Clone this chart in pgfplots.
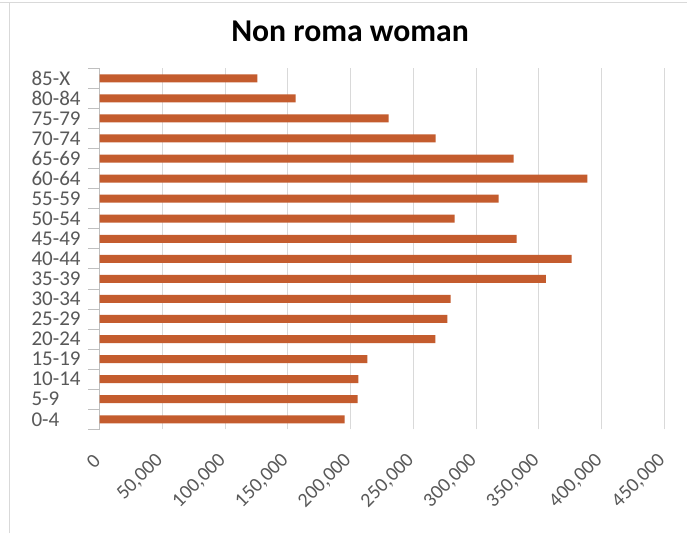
\documentclass[border=0pt]{standalone}
\usepackage{pgfplots}
\pgfplotsset{compat=1.18}
\usepackage{fontspec}
\setmainfont{Carlito}
\definecolor{barc}{RGB}{196,92,46}
\definecolor{gridc}{RGB}{217,217,217}
\definecolor{axisc}{RGB}{191,191,191}
\definecolor{labc}{RGB}{89,89,89}

\begin{document}
\begin{tikzpicture}[x=1pt,y=1pt]
\useasboundingbox (0,0) rectangle (687,533);
\fill[white] (0,0) rectangle (687,533);
% chart frame
\draw[gridc, line width=1pt] (0,530) -- (687,530);
\draw[gridc, line width=1pt] (9,0) -- (9,530);
\node[font=\bfseries\fontsize{31.7}{36}\selectfont, text=black] at (350,502) {Non roma woman};
\begin{axis}[
  at={(99.5pt,103.7pt)}, anchor=south west,
  scale only axis, width=565pt, height=361pt,
  xbar, bar width=8pt,
  xmin=0, xmax=450000, ymin=-0.5, ymax=17.5,
  scaled x ticks=false,
  xtick={0,50000,100000,150000,200000,250000,300000,350000,400000,450000},
  xticklabels={0,{50,000},{100,000},{150,000},{200,000},{250,000},{300,000},{350,000},{400,000},{450,000}},
  xticklabel style={anchor=east, rotate=45, font=\fontsize{20}{24}\selectfont},
  xticklabel shift=26pt,
  ytick={0,...,17},
  yticklabels={0-4,5-9,10-14,15-19,20-24,25-29,30-34,35-39,40-44,45-49,50-54,55-59,60-64,65-69,70-74,75-79,80-84,85-X},
  minor ytick={-0.5,0.5,...,17.5},
  major tick length=0pt, minor tick length=11pt, tick align=outside,
  minor tick style={axisc, line width=0.8pt},
  xtick style={draw=none},
  yticklabel style={anchor=west, xshift=-71.5pt, font=\fontsize{21}{25}\selectfont},
  tick label style={text=labc},
  axis lines*=left,
  x axis line style={draw=none},
  y axis line style={draw=axisc, line width=0.8pt},
  xmajorgrids, major grid style={gridc, line width=1pt},
  clip=false,
]
\addplot[fill=barc, draw=none] table[x=v, y=c] {
c v
0 195300
1 205600
2 206200
3 213300
4 267500
5 277000
6 279700
7 355600
8 376000
9 332200
10 282900
11 317900
12 388500
13 329800
14 267700
15 230300
16 156300
17 125800
};
\end{axis}
\end{tikzpicture}
\end{document}
